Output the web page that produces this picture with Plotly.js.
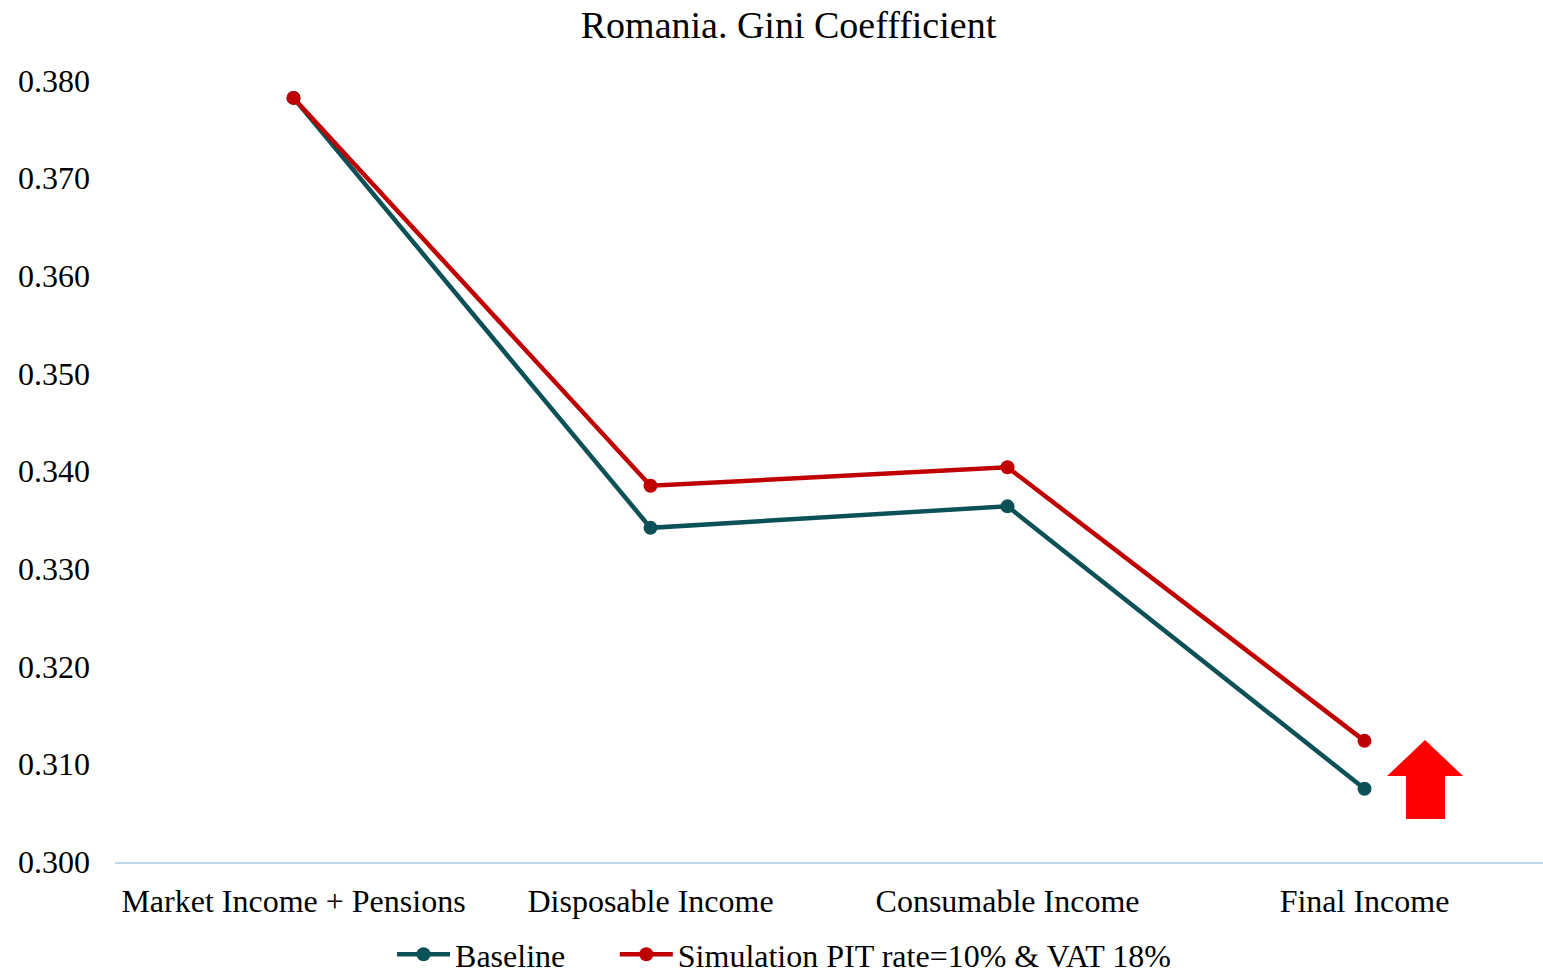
<!DOCTYPE html>
<html><head><meta charset="utf-8">
<script src="https://cdn.plot.ly/plotly-3.0.1.min.js"></script>
<style>html,body{margin:0;padding:0;background:#fff}#chart{width:1543px;height:973px}</style>
</head><body><div id="chart"></div>
<script>
var categories = ["Market Income + Pensions", "Disposable Income", "Consumable Income", "Final Income"];
var baseline = [0.3782, 0.3342, 0.3364, 0.3075];
var simulation = [0.3782, 0.3385, 0.3404, 0.3124];
var seriesNames = ["Baseline", "Simulation PIT rate=10% & VAT 18%"];
var yTicks = [0.30, 0.31, 0.32, 0.33, 0.34, 0.35, 0.36, 0.37, 0.38];

var font = "Liberation Serif, Times New Roman, serif";
var traces = [
  {x: categories, y: baseline, name: seriesNames[0], type: "scatter", mode: "lines+markers", legend: "legend",
   line: {color: "#0B5157", width: 4.5}, marker: {color: "#0B5157", size: 14}},
  {x: categories, y: simulation, name: seriesNames[1], type: "scatter", mode: "lines+markers", legend: "legend2",
   line: {color: "#C00000", width: 4.5}, marker: {color: "#C00000", size: 14}}
];
var legendCommon = {orientation: "h", xanchor: "left", yref: "container", y: 0.019, yanchor: "middle",
    font: {family: font, size: 32}, itemwidth: 53, bgcolor: "rgba(0,0,0,0)"};
var layout = {
  width: 1543, height: 973,
  margin: {l: 115, r: 0, t: 51, b: 111},
  paper_bgcolor: "#fff", plot_bgcolor: "#fff",
  font: {family: font, size: 32, color: "#000"},
  title: {text: "Romania. Gini Coeffficient", font: {family: font, size: 38, color: "#000"}, x: 0.511, xanchor: "center", y: 0.975, yanchor: "middle"},
  xaxis: {type: "category", range: [-0.5, 3.5], showgrid: false, zeroline: false, showline: true, automargin: false,
    linecolor: "#BDD7EE", linewidth: 2, ticks: "", ticklabelstandoff: 10, tickfont: {family: font, size: 32}},
  yaxis: {range: [0.300, 0.383], tickvals: yTicks, tickformat: ".3f", showgrid: false, zeroline: false, automargin: false,
    showline: false, ticks: "", ticklabelstandoff: 24, tickfont: {family: font, size: 32}},
  showlegend: true,
  legend: Object.assign({}, legendCommon, {x: 0.194}),
  legend2: Object.assign({}, legendCommon, {x: 0.350}),
  shapes: [{
    type: "path", xref: "paper", yref: "paper",
    path: "M 0.9174 0.1504 L 0.9440 0.1060 L 0.9314 0.1060 L 0.9314 0.0530 L 0.9041 0.0530 L 0.9041 0.1060 L 0.8908 0.1060 Z",
    fillcolor: "#FF0000", line: {width: 0}
  }]
};
Plotly.newPlot("chart", traces, layout, {displayModeBar: false});
</script></body></html>
